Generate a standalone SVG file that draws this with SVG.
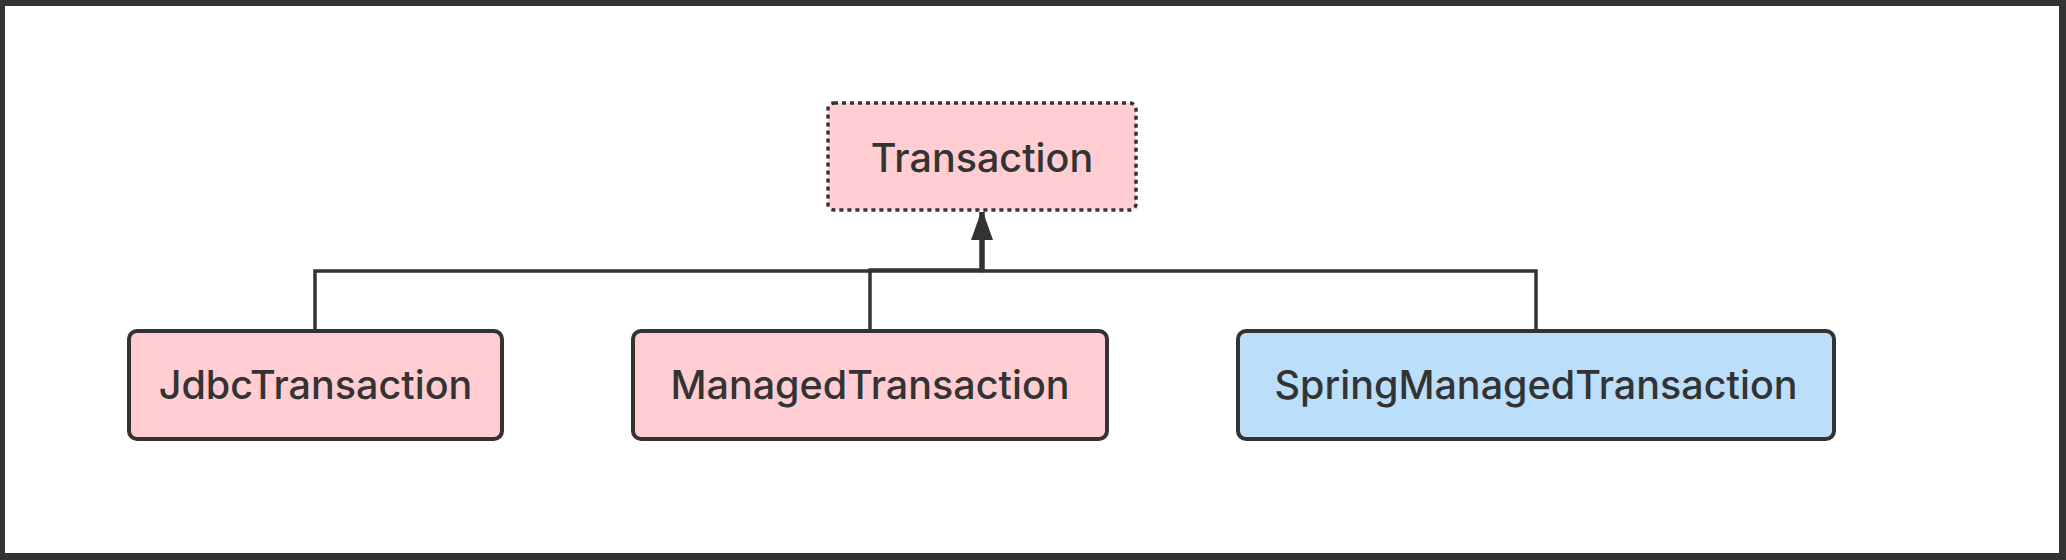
<svg xmlns="http://www.w3.org/2000/svg" width="2066" height="560" viewBox="0 0 2066 560">
  <style>
    .node { stroke: #333333; stroke-width: 4; }
    .pink { fill: #FFCDD2; }
    .blue { fill: #BBDEFB; }
    .dotted { stroke-width: 3.5; stroke-dasharray: 4 4; }
    .label { font-family: Inter, "Open Sans", "Liberation Sans", sans-serif; font-size: 39.5px; font-weight: 500; fill: #333333; text-anchor: middle; }
    .conn { fill: none; stroke: #333333; stroke-width: 3.5; }
  </style>
  <defs>
    <marker id="arrow" viewBox="0 0 28 20" refX="28" refY="10" markerWidth="28" markerHeight="20" markerUnits="userSpaceOnUse" orient="auto">
      <path d="M0,0 L28,10 L0,20 z" fill="#333333"/>
    </marker>
  </defs>
  <rect x="0" y="0" width="2066" height="560" fill="#333333"/>
  <rect x="5" y="6" width="2054" height="547" fill="#ffffff"/>

  <g id="connectors">
    <path class="conn" d="M315,331 V271 H981 V212" marker-end="url(#arrow)"/>
    <path class="conn" d="M870,331 V270 H982 V212" marker-end="url(#arrow)"/>
    <path class="conn" d="M1536,331 V271 H983 V212" marker-end="url(#arrow)"/>
  </g>

  <g id="node-transaction">
    <rect class="node pink dotted" x="828" y="103" width="308" height="107" rx="6"/>
    <text class="label" x="982" y="172">Transaction</text>
  </g>
  <g id="node-jdbc">
    <rect class="node pink" x="129" y="331" width="373" height="108" rx="8"/>
    <text class="label" x="315.5" y="399">JdbcTransaction</text>
  </g>
  <g id="node-managed">
    <rect class="node pink" x="633" y="331" width="474" height="108" rx="8"/>
    <text class="label" x="870" y="399">ManagedTransaction</text>
  </g>
  <g id="node-spring">
    <rect class="node blue" x="1238" y="331" width="596" height="108" rx="8"/>
    <text class="label" x="1536" y="399">SpringManagedTransaction</text>
  </g>
</svg>
